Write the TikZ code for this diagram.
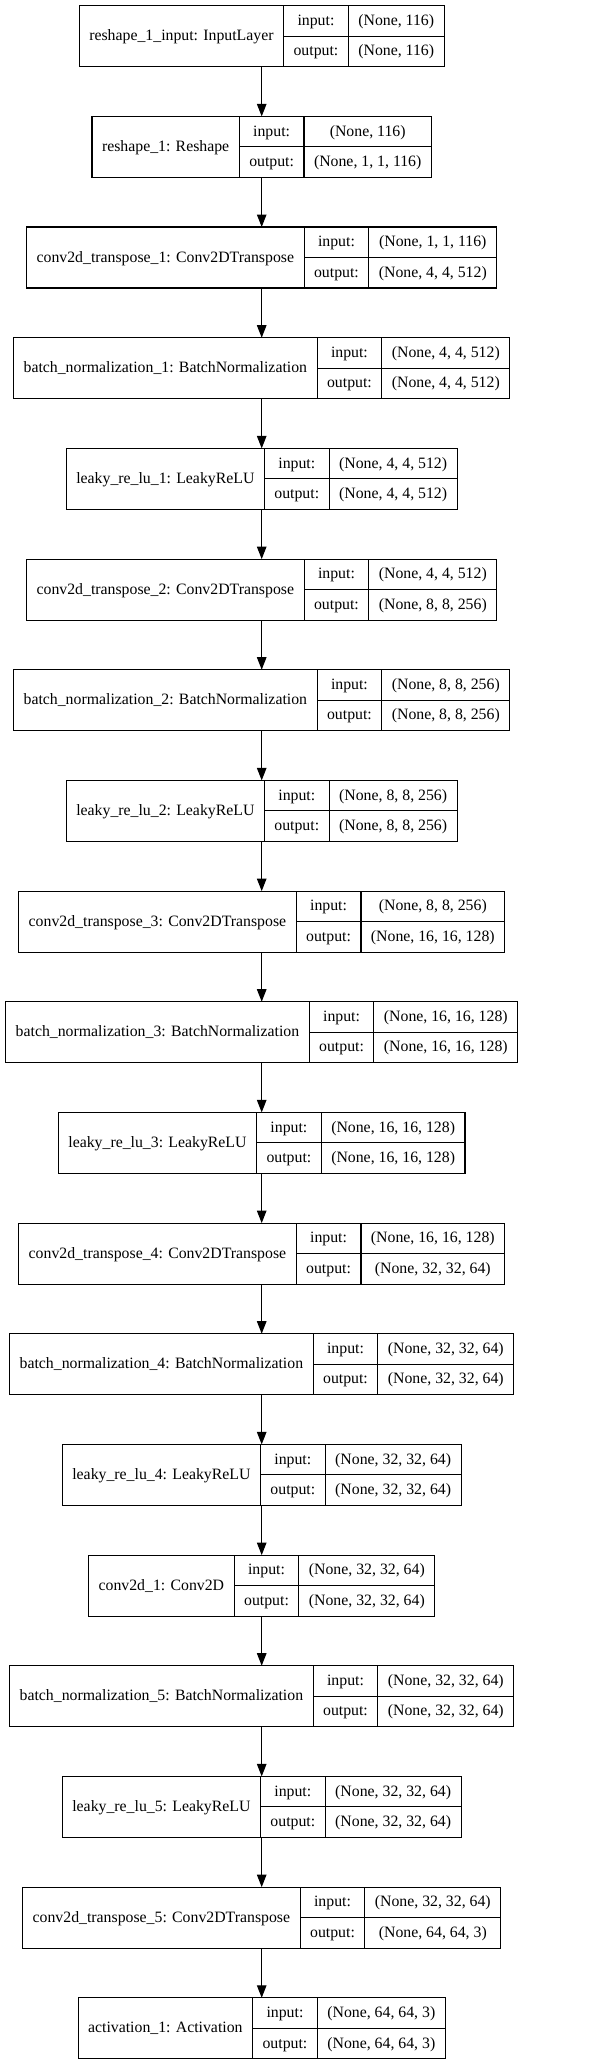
\documentclass[tikz,border=0pt]{standalone}
\usepackage{fontspec}
\setmainfont{Liberation Serif}
\usepackage{tikz}
\usetikzlibrary{arrows.meta}

\newlength\labelw
\newlength\shapew
\newlength\iow
\font\lyrfont="Liberation Serif" at 15.8pt
% one keras layer: name, top, label, input shape, output shape
\newcommand\layer[5]{%
  \settowidth\labelw{\lyrfont #3}\addtolength\labelw{20pt}%
  \settowidth\shapew{\lyrfont #4}%
  \settowidth\iow{\lyrfont #5}%
  \ifdim\iow>\shapew \shapew=\iow\fi
  \addtolength\shapew{20pt}%
  \settowidth\iow{\lyrfont output:}\addtolength\iow{20pt}%
  \node[box, minimum width=\labelw+\iow+\shapew, anchor=north] (#1) at (261.7,-#2) {};
  \node[cell, minimum width=\labelw, minimum height=61pt, anchor=north west] (#1-name) at (#1.north west) {#3};
  \node[cell, minimum width=\iow, anchor=north west] (#1-in) at (#1-name.north east) {input:};
  \node[cell, minimum width=\iow, anchor=north west] (#1-out) at (#1-in.south west) {output:};
  \node[cell, minimum width=\shapew, anchor=north west] (#1-inshape) at (#1-in.north east) {#4};
  \node[cell, minimum width=\shapew, anchor=north west] (#1-outshape) at (#1-inshape.south west) {#5};
}

\begin{document}
\begin{tikzpicture}[x=1pt, y=1pt,
    box/.style={minimum height=61pt, inner sep=0pt, outer sep=0pt},
    cell/.style={draw, line width=1.1pt, minimum height=30.5pt, inner sep=0pt, outer sep=0pt,
      font=\lyrfont, text height=12pt, text depth=3pt},
    conn/.style={line width=1.1pt, -{Triangle[length=12.5pt, width=9.5pt]}}]

    \useasboundingbox (0,0) rectangle (597,-2065);

    % layers
    \layer{inlayer}{5.7}{reshape\_1\_input: InputLayer}{(None, 116)}{(None, 116)}
    \layer{reshape}{116.4}{reshape\_1: Reshape}{(None, 116)}{(None, 1, 1, 116)}
    \layer{convt1}{227.0}{conv2d\_transpose\_1: Conv2DTranspose}{(None, 1, 1, 116)}{(None, 4, 4, 512)}
    \layer{bn1}{337.7}{batch\_normalization\_1: BatchNormalization}{(None, 4, 4, 512)}{(None, 4, 4, 512)}
    \layer{lrelu1}{448.4}{leaky\_re\_lu\_1: LeakyReLU}{(None, 4, 4, 512)}{(None, 4, 4, 512)}
    \layer{convt2}{559.1}{conv2d\_transpose\_2: Conv2DTranspose}{(None, 4, 4, 512)}{(None, 8, 8, 256)}
    \layer{bn2}{669.7}{batch\_normalization\_2: BatchNormalization}{(None, 8, 8, 256)}{(None, 8, 8, 256)}
    \layer{lrelu2}{780.4}{leaky\_re\_lu\_2: LeakyReLU}{(None, 8, 8, 256)}{(None, 8, 8, 256)}
    \layer{convt3}{891.1}{conv2d\_transpose\_3: Conv2DTranspose}{(None, 8, 8, 256)}{(None, 16, 16, 128)}
    \layer{bn3}{1001.7}{batch\_normalization\_3: BatchNormalization}{(None, 16, 16, 128)}{(None, 16, 16, 128)}
    \layer{lrelu3}{1112.4}{leaky\_re\_lu\_3: LeakyReLU}{(None, 16, 16, 128)}{(None, 16, 16, 128)}
    \layer{convt4}{1223.1}{conv2d\_transpose\_4: Conv2DTranspose}{(None, 16, 16, 128)}{(None, 32, 32, 64)}
    \layer{bn4}{1333.7}{batch\_normalization\_4: BatchNormalization}{(None, 32, 32, 64)}{(None, 32, 32, 64)}
    \layer{lrelu4}{1444.4}{leaky\_re\_lu\_4: LeakyReLU}{(None, 32, 32, 64)}{(None, 32, 32, 64)}
    \layer{conv1}{1555.1}{conv2d\_1: Conv2D}{(None, 32, 32, 64)}{(None, 32, 32, 64)}
    \layer{bn5}{1665.7}{batch\_normalization\_5: BatchNormalization}{(None, 32, 32, 64)}{(None, 32, 32, 64)}
    \layer{lrelu5}{1776.4}{leaky\_re\_lu\_5: LeakyReLU}{(None, 32, 32, 64)}{(None, 32, 32, 64)}
    \layer{convt5}{1887.1}{conv2d\_transpose\_5: Conv2DTranspose}{(None, 32, 32, 64)}{(None, 64, 64, 3)}
    \layer{act}{1997.8}{activation\_1: Activation}{(None, 64, 64, 3)}{(None, 64, 64, 3)}

    % arrows
    \draw[conn] (inlayer.south) -- (reshape.north);
    \draw[conn] (reshape.south) -- (convt1.north);
    \draw[conn] (convt1.south) -- (bn1.north);
    \draw[conn] (bn1.south) -- (lrelu1.north);
    \draw[conn] (lrelu1.south) -- (convt2.north);
    \draw[conn] (convt2.south) -- (bn2.north);
    \draw[conn] (bn2.south) -- (lrelu2.north);
    \draw[conn] (lrelu2.south) -- (convt3.north);
    \draw[conn] (convt3.south) -- (bn3.north);
    \draw[conn] (bn3.south) -- (lrelu3.north);
    \draw[conn] (lrelu3.south) -- (convt4.north);
    \draw[conn] (convt4.south) -- (bn4.north);
    \draw[conn] (bn4.south) -- (lrelu4.north);
    \draw[conn] (lrelu4.south) -- (conv1.north);
    \draw[conn] (conv1.south) -- (bn5.north);
    \draw[conn] (bn5.south) -- (lrelu5.north);
    \draw[conn] (lrelu5.south) -- (convt5.north);
    \draw[conn] (convt5.south) -- (act.north);

\end{tikzpicture}
\end{document}
